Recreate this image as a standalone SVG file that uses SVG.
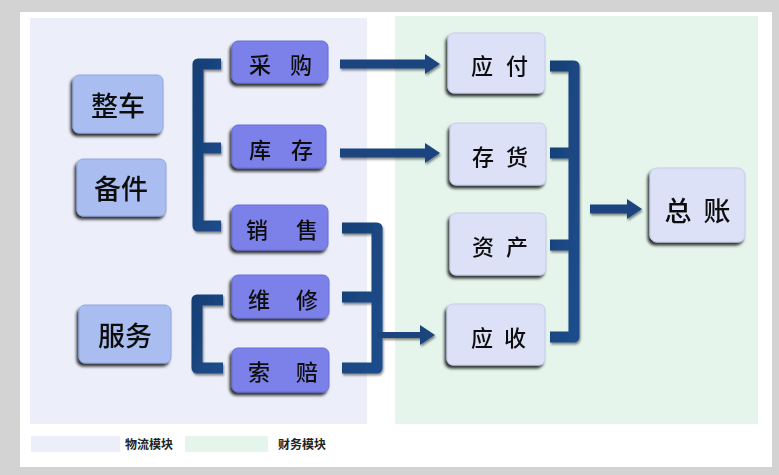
<svg xmlns="http://www.w3.org/2000/svg" width="779" height="475" viewBox="0 0 779 475">
<defs>
<style>
.lbl{font-family:"Noto Sans CJK SC","Noto Sans CJK TC",sans-serif;font-weight:500;fill:#111;text-anchor:middle;dominant-baseline:central}
.big{font-size:27px}
.mid{font-size:22px}
.leg{font-family:"Noto Sans CJK SC",sans-serif;font-size:12px;font-weight:bold;fill:#222}
.n1{fill:#a9bdf0;stroke:#8fa6e2;stroke-width:1}
.n2{fill:#7c81ea;stroke:#6a6fd8;stroke-width:1}
.n3{fill:#dce1f7;stroke:#c5cbeb;stroke-width:1}
.bar{fill:none;stroke:url(#bg);stroke-width:11;stroke-linejoin:round;stroke-linecap:butt}
.arr{fill:none;stroke:#1a4580;stroke-width:9;marker-end:url(#ah)}
</style>
<linearGradient id="bg" x1="0" y1="0" x2="1" y2="1">
<stop offset="0" stop-color="#173f75"/>
<stop offset="1" stop-color="#1d4d8b"/>
</linearGradient>
<filter id="sh" x="-20%" y="-20%" width="140%" height="150%">
<feDropShadow dx="-2" dy="3" stdDeviation="1.6" flood-color="#000" flood-opacity="0.8"/>
</filter>
<filter id="sh2" x="-10%" y="-10%" width="120%" height="130%">
<feDropShadow dx="1" dy="2" stdDeviation="1" flood-color="#000" flood-opacity="0.45"/>
</filter>
<marker id="ah" markerUnits="userSpaceOnUse" markerWidth="16" markerHeight="22" refX="1" refY="11" orient="auto">
<path d="M0,1 L15,11 L0,21 Z" fill="#1a4580"/>
</marker>
</defs>

<rect x="0" y="0" width="779" height="475" fill="#d3d3d3"/>
<rect x="20" y="12" width="752" height="455" fill="#ffffff"/>
<rect x="30" y="18" width="337" height="406" fill="#eceff9"/>
<rect x="395" y="16" width="363" height="408" fill="#e5f5eb"/>

<g id="legend">
<rect x="31" y="436" width="89" height="16" fill="#eceff9"/>
<text class="leg" x="125" y="449">物流模块</text>
<rect x="185" y="436" width="83" height="16" fill="#e5f5eb"/>
<text class="leg" x="278" y="449">财务模块</text>
</g>

<g id="connectors" filter="url(#sh2)">
<path class="bar" d="M221,64 H198 V226 H221 M198,148 H221"/>
<path class="bar" d="M223,300 H197 V368 H223"/>
<path class="bar" d="M342,228 H377 V368 H342 M342,297 H377"/>
<path class="arr" style="stroke-width:6" d="M377,335 H421"/>
<path class="bar" d="M550,66 H574 V337 H550 M550,153 H574 M550,245 H574"/>
<path class="arr" d="M340,64 H426"/>
<path class="arr" d="M340,153 H426"/>
<path class="arr" d="M590,209 H628"/>
</g>

<g id="n-zhengche" filter="url(#sh)"><rect class="n1" x="73" y="75" width="90" height="58" rx="6"/><text class="lbl big" x="118" y="104">整车</text></g>
<g id="n-beijian" filter="url(#sh)"><rect class="n1" x="77" y="159" width="89" height="57" rx="6"/><text class="lbl big" x="121" y="187">备件</text></g>
<g id="n-fuwu" filter="url(#sh)"><rect class="n1" x="79" y="305" width="92" height="58" rx="6"/><text class="lbl big" x="125" y="334">服务</text></g>

<g id="n-caigou" filter="url(#sh)"><rect class="n2" x="232" y="41" width="96" height="42" rx="6"/><text class="lbl mid" x="260 301" y="63">采购</text></g>
<g id="n-kucun" filter="url(#sh)"><rect class="n2" x="232" y="125" width="94" height="43" rx="6"/><text class="lbl mid" x="260 302" y="148">库存</text></g>
<g id="n-xiaoshou" filter="url(#sh)"><rect class="n2" x="232" y="205" width="96" height="45" rx="6"/><text class="lbl mid" x="257 307" y="228">销售</text></g>
<g id="n-weixiu" filter="url(#sh)"><rect class="n2" x="232" y="275" width="97" height="43" rx="6"/><text class="lbl mid" x="259 307" y="298">维修</text></g>
<g id="n-suopei" filter="url(#sh)"><rect class="n2" x="232" y="348" width="97" height="44" rx="6"/><text class="lbl mid" x="259 307" y="370">索赔</text></g>

<g id="n-yingfu" filter="url(#sh)"><rect class="n3" x="448" y="33" width="97" height="60" rx="6"/><text class="lbl mid" x="482 517" y="64">应付</text></g>
<g id="n-cunhuo" filter="url(#sh)"><rect class="n3" x="450" y="123" width="96" height="62" rx="6"/><text class="lbl mid" x="483 517" y="155">存货</text></g>
<g id="n-zichan" filter="url(#sh)"><rect class="n3" x="450" y="213" width="96" height="62" rx="6"/><text class="lbl mid" x="483 517" y="245">资产</text></g>
<g id="n-yingshou" filter="url(#sh)"><rect class="n3" x="447" y="304" width="98" height="61" rx="6"/><text class="lbl mid" x="482 515" y="336">应收</text></g>
<g id="n-zongzhang" filter="url(#sh)"><rect class="n3" x="650" y="168" width="95" height="74" rx="7"/><text class="lbl big" x="678 717" y="209">总账</text></g>
</svg>
